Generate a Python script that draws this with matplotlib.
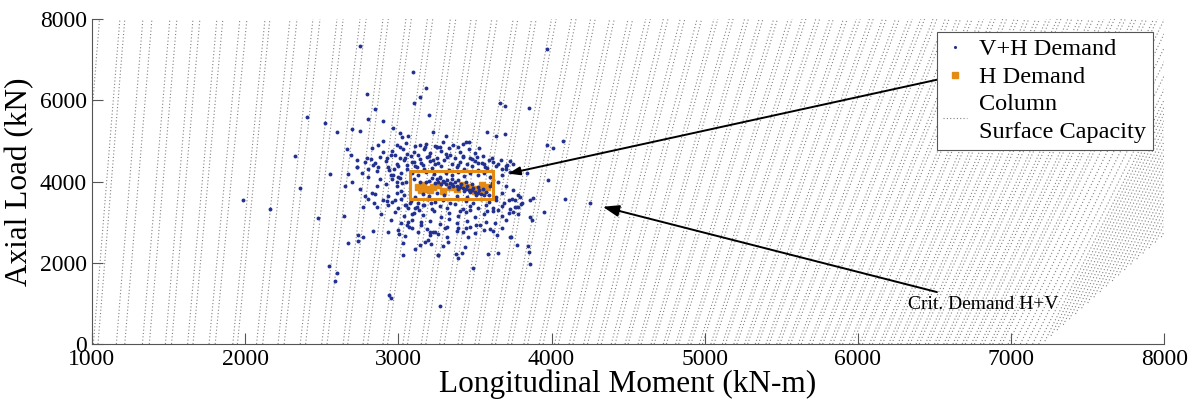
import matplotlib
matplotlib.use('Agg')
import matplotlib.pyplot as plt
from matplotlib.patches import Rectangle

plt.rcParams['font.family'] = ['Liberation Serif', 'DejaVu Serif']

# column capacity surface traces: moment at P=0 (or at the envelope start) and at P=8000
cap_m_lo = [880, 1010, 1040, 1160, 1215, 1330, 1375, 1480, 1520, 1625, 1660, 1765, 1805,
            1920, 1950, 2075, 2115, 2215, 2255, 2360, 2395, 2500, 2535, 2640, 2670, 2770,
            2800, 2900, 2930, 3030, 3060, 3150, 3180, 3270, 3300, 3390, 3415, 3500, 3525,
            3610, 3635, 3715, 3740, 3820, 3845, 3920, 3945, 4020, 4045, 4115, 4140, 4210,
            4235, 4300, 4325, 4390, 4415, 4480, 4500, 4565, 4585, 4650, 4670, 4730, 4750,
            4810, 4830, 4890, 4910, 4965, 4985, 5040, 5060, 5115, 5135, 5190, 5210, 5260,
            5280, 5330, 5350, 5400, 5420, 5470, 5490, 5540, 5560, 5610, 5630, 5680, 5700,
            5750, 5770, 5815, 5835, 5880, 5900, 5945, 5965, 6010, 6030, 6075, 6095, 6140,
            6160, 6200, 6220, 6260, 6280, 6320, 6340, 6380, 6400, 6440, 6460, 6500, 6520,
            6560, 6580, 6620, 6640, 6680, 6700, 6740, 6760, 6800, 6820, 6860, 6880, 6920,
            6940, 6980, 7020, 7060, 7100, 7140, 7180,
            7220, 7260, 7300, 7340, 7380, 7420, 7460, 7500, 7540, 7580, 7620, 7660, 7700,
            7740, 7780, 7820, 7860, 7900, 7940, 7980]
cap_p_lo = [0] * 137 + [70, 200, 340, 470, 610, 740, 880, 1010, 1150, 1280, 1420, 1550,
                        1690, 1820, 1960, 2090, 2230, 2360, 2500, 2630]
cap_m_hi = [1050, 1183, 1215, 1333, 1392, 1509, 1555, 1660, 1705, 1816, 1855, 1966, 2012,
            2130, 2162, 2293, 2339, 2443, 2489, 2600, 2640, 2750, 2790, 2900, 2935, 3050,
            3085, 3190, 3225, 3340, 3375, 3475, 3510, 3610, 3645, 3750, 3780, 3870, 3900,
            4000, 4030, 4130, 4160, 4255, 4285, 4380, 4410, 4500, 4530, 4615, 4645, 4730,
            4760, 4840, 4870, 4950, 4980, 5060, 5085, 5160, 5185, 5260, 5285, 5355, 5380,
            5450, 5475, 5545, 5570, 5635, 5660, 5725, 5750, 5815, 5840, 5905, 5930, 5990,
            6015, 6075, 6100, 6160, 6185, 6245, 6270, 6330, 6355, 6410, 6435, 6490, 6515,
            6570, 6595, 6645, 6670, 6720, 6745, 6795, 6820, 6870, 6895, 6945, 6970, 7020,
            7045, 7090, 7115, 7160, 7185, 7230, 7255, 7300, 7325, 7370, 7395, 7440, 7465,
            7510, 7535, 7580, 7605, 7650, 7675, 7720, 7745, 7790, 7815, 7860, 7885, 7930,
            7955, 8000, 8045, 8090, 8135, 8180, 8225,
            8259, 8282, 8303, 8326, 8348, 8371, 8393, 8416, 8437, 8460, 8482, 8505, 8527,
            8550, 8571, 8594, 8616, 8639, 8661, 8683]

# V+H demand (moment kN-m, axial kN)
vh_m = [2750, 3096, 3181, 3142, 3103, 2796, 2848, 2802, 2404, 2521, 2900, 2600, 2698, 2750,
        2966, 3200, 3227, 2326, 2554, 2672, 3063, 3011, 3024,
        3971, 3664, 3697, 3854, 3312, 3580, 3638, 3697, 4076, 3971, 4010, 3443, 3462, 3527,
        3253, 3272, 3390, 3338, 3423, 3468, 3514, 3547, 3566, 3730, 3749, 3710, 3677, 3788,
        3840,
        2358, 1986, 2162, 2476, 2646, 2750, 2828, 2770, 2737, 2770, 2672, 2737, 2835, 2926,
        2979, 2933, 3005, 3044, 3031, 3109, 3142, 3174, 3031, 2548, 2600, 2587, 2939, 2952,
        3063, 3090, 3135, 3148, 3063, 3057, 3090, 3227, 3207, 3194, 3214, 3259, 2959, 2992,
        3024, 2998, 2966, 3044, 3077, 3122, 3161, 3214,
        3978, 4089, 4252, 3952, 3860, 3880, 3795, 3762, 3860, 3873, 3782, 3808, 3749, 3782,
        3775, 3847, 3854, 3860, 3736, 3651, 3586, 3488, 3390, 3377, 3259, 3292, 3325, 3436,
        3416, 3272, 3599, 3645, 3730, 3677, 3534, 3468, 3423, 3455, 3390, 3207, 3240, 3318,
        3305,
        2665, 2691, 2730, 2730, 2796, 2828, 2835, 2868, 2900, 2861, 2926, 2933, 2979, 3011,
        3044, 3090, 3122, 3142, 3174, 3187, 3227, 3253,
        3050, 3180, 3290, 3360, 3240, 3420, 2990, 3110,
        2960, 3030, 3100, 3170, 3210, 3280, 3330, 3400, 3460, 3500, 2900, 3060,
        2880, 2950, 3010, 3080, 3140, 3200, 3250, 3310, 3370, 3420, 3480, 3550, 3610, 2820,
        2850, 2920, 2990, 3040, 3100, 3160, 3210, 3260, 3300, 3350, 3400, 3450, 3500, 3560,
        3620, 3670, 2780,
        2800, 2870, 2940, 3000, 3060, 3110, 3170, 3220, 3280, 3330, 3380, 3430, 3480, 3520,
        3580, 3640, 3700, 2730,
        3090, 3130, 3180, 3230, 3270, 3310, 3350, 3390, 3430, 3470, 3520, 3560, 3600,
        3220, 3250, 3270, 3290, 3300, 3320, 3340, 3350, 3370, 3380, 3400, 3410, 3420, 3440,
        3450, 3460, 3480, 3490, 3500, 3520, 3530, 3540, 3560, 3570, 3590, 3260, 3310, 3360,
        3390, 3430, 3470, 3510, 3280, 3330, 3200, 3180, 3240, 3350, 3390, 3440, 3480, 3520,
        3550,
        3100, 3140, 3160, 3200, 3250, 3300, 3600, 3610, 3620, 3110, 3380, 3450,
        2900, 2960, 3020, 3080, 3130, 3190, 3240, 3290, 3340, 3390, 3440, 3490, 3540, 3590,
        3640, 3690, 3740, 2840,
        2860, 2930, 3000, 3050, 3110, 3170, 3220, 3270, 3320, 3370, 3420, 3470, 3520, 3570,
        3620, 3680, 3730,
        2890, 2980, 3040, 3100, 3160, 3230, 3280, 3330, 3390, 3440, 3500, 3560, 3620, 3680,
        3720,
        2950, 3020, 3090, 3150, 3210, 3270, 3330, 3380, 3450, 3510, 3570, 3630, 3700,
        3000, 3070, 3130, 3190, 3260, 3320, 3380, 3440, 3500, 3560, 3620,
        2950, 3010, 2880, 2920, 2990, 3050, 2860, 2800, 2760, 2700, 2650, 3020, 2970, 3060,
        3150, 3240, 3130, 3320, 3390, 3520, 3590, 3650, 3700, 3730, 3680, 3650, 3700, 3750,
        3680, 3780, 3640, 3720, 3800, 3760, 3650, 3580, 3470, 3400, 2780, 2850, 2930, 2990,
        3040, 2800, 3020]
vh_p = [7330, 6690, 6300, 6076, 5930, 6150, 5780, 5535, 5584, 5437, 5486, 5215, 5289, 5240,
        5314, 5633, 5215, 4625, 4182, 4182, 5117, 5190, 5092,
        7257, 5930, 5855, 5806, 5117, 5215, 5117, 5166, 4994, 4895, 4822, 4969, 4969, 4822,
        4846, 4846, 4846, 4650, 4600, 4576, 4600, 4453, 4354, 4502, 4428, 4403, 4305, 4280,
        4207,
        3838, 3542, 3321, 3100, 3149, 3813, 3715, 3370, 2681, 2632, 2485, 2534, 2780, 3518,
        3542, 2755, 2706, 2657, 2485, 2337, 2435, 2509, 2189, 1919, 1747, 1550, 1205, 1132,
        3346, 3198, 3296, 3001, 3001, 2927, 2854, 2755, 2681, 2558, 2460, 2189, 4059, 3985,
        3961, 4108, 4157, 3419, 3469, 3370, 3419, 3469,
        4034, 3567, 3469, 3247, 3542, 3592, 3616, 3542, 3124, 3050, 3370, 3469, 3247, 3198,
        2435, 2411, 2263, 1968, 2632, 2239, 2214, 1870, 2116, 2214, 2189, 2411, 2509, 2386,
        2239, 935, 2829, 2681, 2632, 2854, 2927, 2878, 2755, 2632, 2854, 2755, 2755, 2632,
        2854,
        4797, 4650, 4526, 4354, 4575, 4822, 4403, 4895, 4994, 4256, 4575, 4354, 4650, 4846,
        4575, 4477, 4354, 4895, 4846, 4600, 4526, 4846,
        4950, 4930, 4980, 4900, 4870, 4920, 4890, 4880,
        4760, 4800, 4720, 4790, 4700, 4760, 4820, 4730, 4790, 4700, 4720, 4680,
        4600, 4650, 4570, 4620, 4560, 4640, 4590, 4670, 4580, 4630, 4560, 4640, 4590, 4560,
        4450, 4500, 4430, 4520, 4470, 4410, 4500, 4450, 4530, 4420, 4490, 4440, 4510, 4420,
        4470, 4530, 4480,
        4300, 4350, 4280, 4370, 4310, 4380, 4300, 4340, 4390, 4280, 4350, 4300, 4370, 4290,
        4340, 4380, 4300, 4360,
        4200, 4150, 4230, 4180, 4120, 4210, 4160, 4230, 4130, 4200, 4150, 4220, 4120,
        4080, 4050, 4090, 4020, 3990, 4040, 3960, 3930, 3990, 3900, 3870, 3940, 3850, 3820,
        3890, 3800, 3780, 3840, 3750, 3720, 3790, 3700, 3680, 3740, 3660, 4000, 3950, 3880,
        3820, 3770, 3730, 3680, 3940, 3870, 4020, 3980, 3960, 4070, 4040, 3990, 3930, 3870,
        3820,
        4050, 3990, 3700, 3650, 3720, 3660, 3880, 3960, 4040, 3620, 3640, 3620,
        3550, 3500, 3580, 3520, 3470, 3560, 3500, 3540, 3460, 3570, 3510, 3470, 3560, 3500,
        3540, 3470, 3580, 3480,
        3380, 3420, 3340, 3410, 3360, 3430, 3330, 3400, 3350, 3440, 3320, 3390, 3340, 3420,
        3360, 3400, 3330,
        3200, 3250, 3150, 3230, 3180, 3270, 3130, 3220, 3160, 3250, 3120, 3200, 3270, 3150,
        3230,
        3050, 2980, 3060, 2930, 3020, 2960, 3070, 2990, 3040, 2940, 3010, 2970, 3060,
        2800, 2870, 2760, 2840, 2720, 2880, 2790, 2850, 2740, 2810, 2770,
        4150, 4080, 4050, 3950, 3900, 3980, 3900, 4100, 4200, 4000, 3900, 4220, 4320, 4400,
        4460, 4420, 4660, 4600, 4410, 4460, 4520, 4440, 4380, 4230, 4150, 3980, 3900, 3800,
        3720, 3680, 3620, 3550, 3450, 3380, 3300, 3280, 3300, 3280, 3650, 3700, 3650, 3720,
        3680, 3560, 3770]

# H demand (moment kN-m, axial kN)
h_m = [3129, 3161, 3194, 3227, 3259, 3292, 3338, 3383, 3416, 3468, 3514, 3547, 3579,
       3145, 3210, 3500, 3560]
h_p = [3862, 3911, 3813, 3862, 3911, 3764, 3862, 3813, 3911, 3862, 3813, 3911, 3862,
       3790, 3790, 3764, 3790]
h_box_m = (3077, 3619)
h_box_p = (3567, 4256)

navy = '#22318f'
orange = '#e38b14'

fig = plt.figure(figsize=(11.93, 4.0), dpi=100)
ax = fig.add_axes([0.077, 0.14, 0.899, 0.8125])

for i in range(len(cap_m_lo)):
    ax.plot([cap_m_lo[i], cap_m_hi[i]], [cap_p_lo[i], 8000], color='#808080',
            linestyle=(0, (1, 2)), linewidth=0.8, zorder=1,
            label='Column\nSurface Capacity' if i == 0 else None)

ax.plot(h_m, h_p, 's', color=orange, markersize=5, zorder=2, label='H Demand')
ax.plot(vh_m, vh_p, 'o', color=navy, markersize=2.8, markeredgewidth=0, zorder=3,
        label='V+H Demand')
ax.add_patch(Rectangle((h_box_m[0], h_box_p[0]), h_box_m[1] - h_box_m[0],
                       h_box_p[1] - h_box_p[0], fill=False, edgecolor=orange,
                       linewidth=2.2, zorder=4))

ax.annotate('', xy=(3700, 4180), xytext=(6622, 6593),
            arrowprops=dict(arrowstyle='-|>,head_length=0.7,head_width=0.25',
                            color='black', lw=1.4), zorder=5)
ax.annotate('Crit. Demand H+V', xy=(4317, 3395), xytext=(6330, 984),
            fontsize=14, va='center', ha='left',
            arrowprops=dict(arrowstyle='-|>,head_length=0.7,head_width=0.25',
                            color='black', lw=1.4, shrinkA=2), zorder=5)

ax.set_xlim(1000, 8000)
ax.set_ylim(0, 8000)
ax.set_xticks(range(1000, 8001, 1000))
ax.set_yticks(range(0, 8001, 2000))
ax.tick_params(direction='in', length=8, labelsize=17, color='#555555')
for side in ['top', 'right']:
    ax.spines[side].set_visible(False)
for side in ['left', 'bottom']:
    ax.spines[side].set_color('#555555')
ax.set_xlabel('Longitudinal Moment (kN-m)', fontsize=22.5, labelpad=0)
ax.set_ylabel('Axial Load (kN)', fontsize=22.5, labelpad=4)

handles, labels = ax.get_legend_handles_labels()
order = [2, 1, 0]
leg = ax.legend([handles[i] for i in order], [labels[i] for i in order],
                loc='upper right', bbox_to_anchor=(0.989, 0.96), borderaxespad=0,
                fontsize=17.5, fancybox=False, framealpha=1, edgecolor='#555555',
                handlelength=1.0, handletextpad=0.5, labelspacing=0.25,
                borderpad=0.25, markerscale=0.8)
leg.get_frame().set_linewidth(0.8)
leg.get_texts()[2].set_linespacing(1.45)

fig.savefig('out.png', dpi=100)
